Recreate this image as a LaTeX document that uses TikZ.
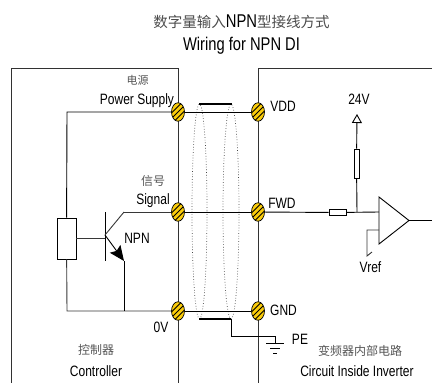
\documentclass[tikz,border=0pt]{standalone}
\usepackage{fontspec}
\setmainfont[FakeStretch=0.8]{Liberation Sans}
\newfontfamily\cjkfont{Noto Sans CJK SC}
\usetikzlibrary{arrows.meta,shapes.geometric}
\tikzset{
  wire/.style={line width=0.9},
  greywire/.style={line width=0.9,color={rgb, 255:red, 55; green, 55; blue, 55 }},
  shieldbar/.style={line width=2},
  shieldloop/.style={dotted,line width=0.7,color={rgb, 255:red, 70; green, 70; blue, 70 }},
  terminal/.style={ellipse,draw,line width=0.7,fill={rgb, 255:red, 250; green, 204; blue, 10 },
    minimum width=13,minimum height=18.5,inner sep=0,
    path picture={
      \draw [line width=0.8] (path picture bounding box.center) ++(-8,-8) -- ++(16,16);
      \draw [line width=0.8] (path picture bounding box.center) ++(-8,-13.5) -- ++(16,16);
      \draw [line width=0.8] (path picture bounding box.center) ++(-8,-2.5) -- ++(16,16);
    }},
  part/.style={draw,line width=0.8,fill=white,inner sep=0},
  latinlabel/.style={font=\fontsize{15}{15}\selectfont,inner sep=0,text=black},
  cjklabel/.style={font=\fontsize{12}{12}\selectfont\cjkfont,inner sep=0,color={rgb, 255:red, 85; green, 85; blue, 85 }},
}
\begin{document}
\begin{tikzpicture}[x=1pt,y=1pt,yscale=-1,xscale=1]
\useasboundingbox (0,0) rectangle (432,383);

% Cases
\draw [line width=0.9,color={rgb, 255:red, 50; green, 50; blue, 50 }] (11,383) -- (11,68) -- (178,68) -- (178,383);
\draw [line width=0.9,color={rgb, 255:red, 50; green, 50; blue, 50 }] (432,68) -- (258,68) -- (258,383);

% Shield
\draw [shieldloop] (199.5,211.5) ellipse [x radius=7.5,y radius=107.5];
\draw [shieldloop] (231,211.5) ellipse [x radius=8,y radius=107.5];

% Terminals
\coordinate (pwrleft) at (67,112);
\coordinate (gndleft) at (67,311);
\coordinate (collector) at (124,212);
\coordinate (basept) at (105,235);
\coordinate (emitter) at (124,261);
\coordinate (emitterend) at (124,311);
\coordinate (barleft) at (105,212);
\coordinate (barright) at (105,261);
\node [terminal] (power) at (178,112) {};
\node [terminal] (signal) at (178,212) {};
\node [terminal] (zero) at (178,311) {};
\node [terminal] (vdd) at (258,112) {};
\node [terminal] (fwd) at (258,212) {};
\node [terminal] (gnd) at (258,311) {};

% Controller parts
\node [part,minimum width=19,minimum height=41] (relay) at (66.5,238.5) {};

% Connection
\draw [wire] (power) -- (pwrleft) -- (relay);
\draw [greywire] (relay) -- (gndleft) -- (zero);
\draw [greywire] (relay) -- (relay -| basept);
\draw [wire] (barleft) -- (barright);
\draw [greywire] (basept) -- (collector);
\draw [greywire] (collector) -- (signal);
\draw [wire,-{Stealth[length=15,width=13,inset=2.5]}] (basept) -- (emitter);
\draw [wire] (emitter) -- (emitterend);

% Connection
\draw [wire] (power) -- (vdd);
\draw [wire] (signal) -- (fwd);
\draw [wire] (zero) -- (gnd);

% Shield bars and earth
\coordinate (barstart) at (199,104);
\coordinate (barend) at (232,104);
\coordinate (lowstart) at (199,319);
\coordinate (lowend) at (231,319);
\coordinate (earthtop) at (275,336.5);
\coordinate (earth) at (275,343);
\coordinate (earthl) at (266,343);
\coordinate (earthr) at (284,343);
\draw [shieldbar] (barstart) -- (barend);
\draw [shieldbar] (lowstart) -- (lowend);
\draw [wire] (lowend) -- (lowend |- earthtop) -- (earthtop) -- (earth);
\draw [wire] (earthl) -- (earthr);
\draw [wire] (270,348) -- (279.5,348);
\draw [line width=1] (273,353) -- (277,353);

% Inverter side
\node [part,minimum width=17,minimum height=6.5] (rinput) at (337.5,212.5) {};
\node [part,minimum width=5,minimum height=29] (rpull) at (356.5,163.5) {};
\coordinate (pulljoin) at (357,212);
\coordinate (supplytip) at (357,114);
\coordinate (opin) at (379,212);
\coordinate (opvref) at (379,230);
\coordinate (vrefmid) at (367,230);
\coordinate (vrefend) at (367,256);
\coordinate (vreftick) at (372,252);
\coordinate (opout) at (409,220.5);
\coordinate (lineend) at (432,220.5);
\draw [wire] (fwd) -- (rinput);
\draw [wire] (rinput) -- (opin);
\draw [wire] (pulljoin) -- (rpull);
\draw [wire,-{Triangle[open,length=9,width=10]}] (rpull) -- (supplytip);
\draw [line width=0.9] (379,197) -- (379,244) -- (opout) -- cycle;
\draw [wire] (opout) -- (lineend);
\draw [greywire] (opvref) -- (vrefmid) -- (vrefend) -- (vreftick);

% Text Node
\node [inner sep=0] (titlecn) at (241.5,22) {\fontsize{14.5}{14.5}\selectfont{\cjkfont\color[gray]{0.3}数字量输入}\fontsize{18.5}{18.5}\selectfont NPN{\fontsize{14.5}{14.5}\selectfont\cjkfont\color[gray]{0.3}型接线方式}};
\node [inner sep=0,font=\fontsize{18.4}{18.4}\selectfont] (titleen) at (241.5,45.5) {Wiring for NPN DI};
\node [cjklabel,font=\fontsize{11}{11}\selectfont\cjkfont] (powercn) at (137.5,80) {电源};
\node [latinlabel] (powertxt) at (137,101) {Power Supply};
\node [cjklabel] (signalcn) at (153,181) {信号};
\node [latinlabel] (signaltxt) at (153,201) {Signal};
\node [latinlabel] (npntxt) at (137,238) {NPN};
\node [latinlabel] (zerotxt) at (161,327) {0V};
\node [cjklabel] (controllercn) at (96,350) {控制器};
\node [latinlabel] (controllertxt) at (96,371) {Controller};
\node [latinlabel] (vddtxt) at (283,106) {VDD};
\node [latinlabel] (supplytxt) at (359,99) {24V};
\node [latinlabel] (fwdtxt) at (282,203) {FWD};
\node [latinlabel] (vreftxt) at (370.5,267) {Vref};
\node [latinlabel] (gndtxt) at (283.5,310) {GND};
\node [latinlabel] (petxt) at (300,339) {PE};
\node [cjklabel] (invertercn) at (360,351) {变频器内部电路};
\node [latinlabel] (invertertxt) at (357,371) {Circuit Inside Inverter};

\end{tikzpicture}
\end{document}
